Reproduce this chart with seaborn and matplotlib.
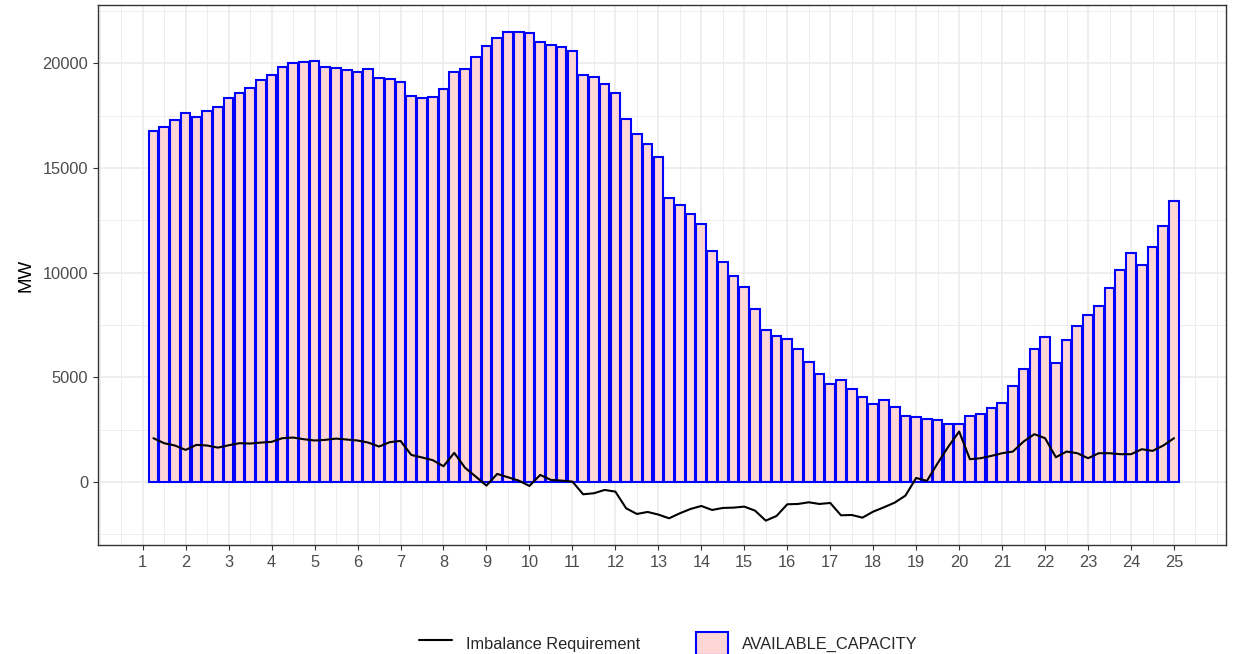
import numpy as np
import pandas as pd
import seaborn as sns
import matplotlib.pyplot as plt
from matplotlib.lines import Line2D
from matplotlib.patches import Patch
from matplotlib.ticker import MultipleLocator

# ------------------------------------------------------------
# Data: 15-minute intervals, hour 1.25 .. 25
# ------------------------------------------------------------
hours = np.arange(1.25, 25.01, 0.25)

available_capacity = [
    16760, 16970, 17290, 17640, 17430, 17735, 17895, 18360, 18580, 18820,
    19220, 19440, 19840, 20030, 20050, 20100, 19810, 19760, 19680, 19570,
    19745, 19280, 19265, 19105, 18420, 18340, 18390, 18760, 19585, 19740,
    20320, 20830, 21230, 21480, 21515, 21470, 21005, 20860, 20800, 20575,
    19440, 19330, 19030, 18580, 17320, 16635, 16140, 15520, 13590, 13240,
    12810, 12330, 11040, 10510, 9860, 9330, 8280, 7260, 6990, 6830,
    6350, 5720, 5140, 4670, 4860, 4450, 4035, 3716, 3907, 3572,
    3142, 3110, 2998, 2951, 2791, 2759, 3158, 3222, 3509, 3764,
    4593, 5407, 6332, 6922, 5694, 6778, 7448, 7990, 8405, 9266,
    10128, 10957, 10367, 11228, 12249, 13429,
]

imbalance_requirement = [
    2090, 1850, 1740, 1530, 1770, 1740, 1640, 1750, 1850, 1835,
    1880, 1915, 2090, 2120, 2040, 1980, 2010, 2070, 2025, 1980,
    1880, 1690, 1900, 1960, 1290, 1170, 1040, 750, 1390, 680,
    255, -175, 383, 223, 64, -191, 335, 96, 64, 16,
    -590, -542, -383, -463, -1260, -1531, -1435, -1560, -1738, -1499,
    -1292, -1148, -1340, -1244, -1228, -1180, -1372, -1850, -1627, -1069,
    -1053, -973, -1053, -1005, -1595, -1579, -1707, -1419, -1212, -989,
    -654, 190, 50, 893, 1691, 2409, 1085, 1133, 1244, 1372,
    1451, 1930, 2281, 2090, 1180, 1451, 1372, 1133, 1372, 1372,
    1325, 1325, 1563, 1483, 1738, 2090,
]

df = pd.DataFrame({
    "HOUR": hours,
    "AVAILABLE_CAPACITY": available_capacity,
    "IMBALANCE": imbalance_requirement,
})

# ------------------------------------------------------------
# Style (ggplot theme_bw look)
# ------------------------------------------------------------
sns.set_theme(style="whitegrid")
plt.rcParams['font.family'] = ['Liberation Sans', 'DejaVu Sans']

fig = plt.figure(figsize=(12.38, 6.54), dpi=100)
fig.subplots_adjust(left=98 / 1238, right=1226 / 1238, top=1 - 5 / 654, bottom=1 - 545 / 654)
ax = fig.add_subplot(111)

sns.barplot(data=df, x="HOUR", y="AVAILABLE_CAPACITY", native_scale=True, width=0.9,
            color="#FFD6D6", saturation=1, edgecolor="#0000FF", linewidth=1.5,
            errorbar=None, ax=ax, zorder=2)
sns.lineplot(data=df, x="HOUR", y="IMBALANCE", color="black", linewidth=1.5,
             ax=ax, zorder=3)

ax.set_xlim(-0.04, 26.21)
ax.set_ylim(-3014, 22790)
ax.xaxis.set_major_locator(MultipleLocator(1))
ax.xaxis.set_minor_locator(MultipleLocator(0.5))
ax.yaxis.set_major_locator(MultipleLocator(5000))
ax.yaxis.set_minor_locator(MultipleLocator(2500))
ax.set_xticks(range(1, 26))
ax.set_xticklabels([str(i) for i in range(1, 26)])

ax.grid(which="major", color="#EBEBEB", linewidth=1.2, zorder=0)
ax.grid(which="minor", color="#EDEDED", linewidth=0.7, zorder=0)
ax.set_axisbelow(True)

for s in ax.spines.values():
    s.set_color("#333333")
    s.set_linewidth(1.0)

ax.tick_params(axis="both", which="major", length=3.5, width=0.8, color="#333333",
               labelsize=11.8, labelcolor="#4D4D4D", pad=3.5, bottom=True, left=True)
ax.tick_params(axis="both", which="minor", length=0)

ax.set_xlabel("")
ax.set_ylabel("MW", fontsize=13.5, color="black", labelpad=6)

handles = [
    Line2D([0], [0], color="black", linewidth=1.5),
    Patch(facecolor="#FFD6D6", edgecolor="#0000FF", linewidth=1.5),
]
fig.legend(handles, ["Imbalance Requirement", "AVAILABLE_CAPACITY"],
           loc="center", bbox_to_anchor=(0.54, 0.016), ncol=2, frameon=False,
           fontsize=11.8, handlelength=2.0, handleheight=1.8,
           handletextpad=0.85, columnspacing=3.4)

fig.savefig("out.png", dpi=100)
